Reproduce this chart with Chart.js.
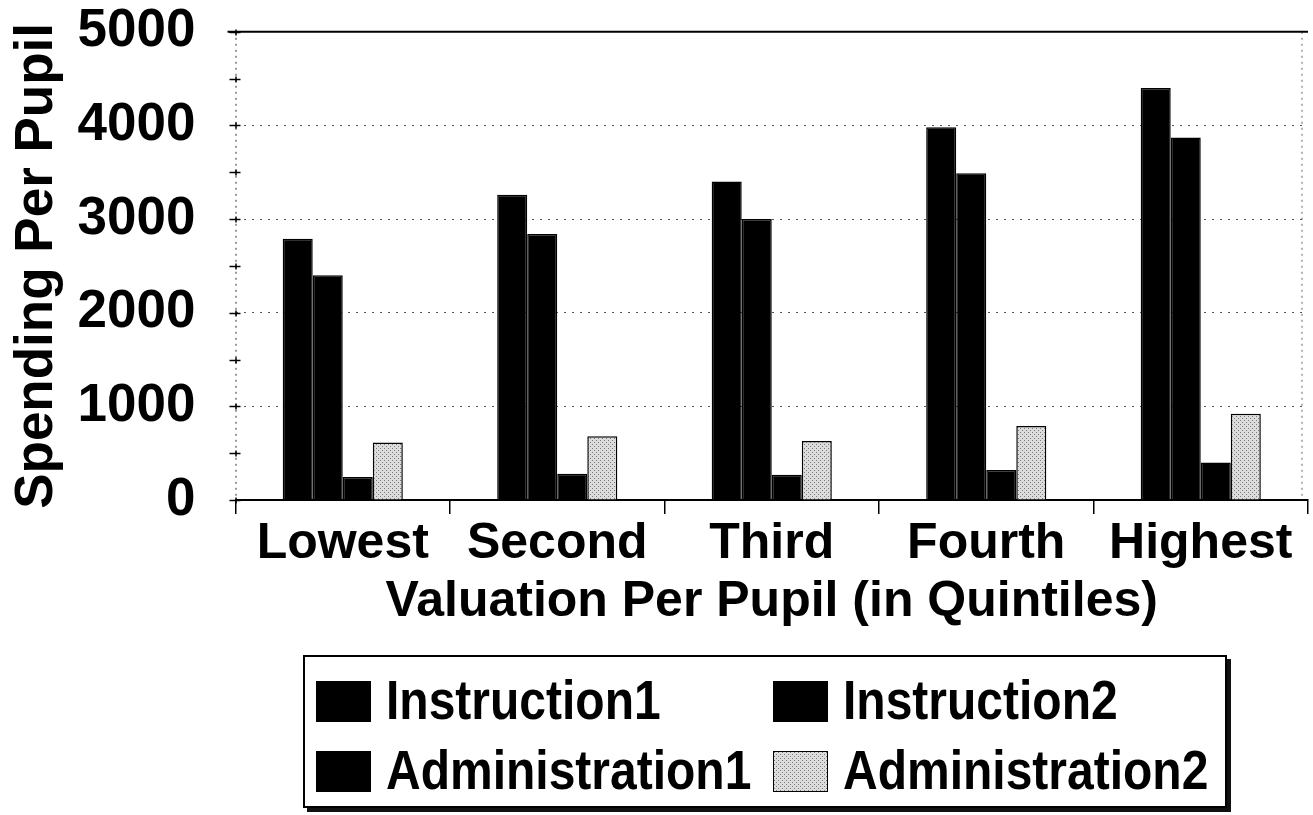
<!DOCTYPE html>
<html>
<head>
<meta charset="utf-8">
<script src="https://cdn.jsdelivr.net/npm/chart.js@4/dist/chart.umd.min.js"></script>
<style>
  html, body { margin:0; padding:0; background:#fff; }
  body { width:1313px; height:815px; position:relative; overflow:hidden; font-family:"Liberation Sans", Arial, sans-serif; }
  #wrap { position:absolute; left:0; top:0; width:1313px; height:632px; }
  #legend { position:absolute; left:303px; top:655px; width:924px; height:153px; border:2px solid #000;
            box-shadow: 4px 4px 0 #111; box-sizing:border-box; background:#fff; }
  .item { position:absolute; display:flex; align-items:center; font-size:48px; font-weight:bold; color:#000; line-height:1; white-space:nowrap; }
  .item span { display:inline-block; transform:scaleY(1.15); transform-origin:50% 50%; }
  .sw { width:55px; height:41px; border:1.5px solid #000; box-sizing:border-box; margin-right:15px; }
</style>
</head>
<body>
<div id="wrap"><canvas id="c"></canvas></div>
<div id="legend"></div>
<script>
const categories = ["Lowest", "Second", "Third", "Fourth", "Highest"];
const seriesNames = ["Instruction1", "Instruction2", "Administration1", "Administration2"];
const instruction1 = [2790, 3260, 3400, 3980, 4400];
const instruction2 = [2400, 2840, 3000, 3490, 3870];
const administration1 = [245, 280, 270, 320, 400];
const administration2 = [615, 680, 630, 790, 920];
const yTicks = [0, 1000, 2000, 3000, 4000, 5000];

function dotPattern() {
  const p = document.createElement('canvas');
  p.width = 4; p.height = 4;
  const g = p.getContext('2d');
  g.fillStyle = '#dcdcdc'; g.fillRect(0,0,4,4);
  g.fillStyle = '#7a7a7a';
  g.fillRect(0,0,1,1); g.fillRect(2,2,1,1);
  return { pattern: g.createPattern(p, 'repeat'), url: p.toDataURL() };
}
const pat = dotPattern();
const fills = ['#000', '#000', '#000', pat.pattern];
const values = [instruction1, instruction2, administration1, administration2];

const FONT = '"Liberation Sans", Arial, sans-serif';

const frame = {
  id: 'frame',
  afterDraw(chart) {
    const {ctx, chartArea, scales} = chart;
    const y = scales.y;
    const yTop = y.getPixelForValue(y.max);
    const yBot = y.getPixelForValue(y.min);
    ctx.save();
    // dotted value-axis line
    ctx.strokeStyle = '#333'; ctx.lineWidth = 1; ctx.setLineDash([2,4]);
    ctx.beginPath(); ctx.moveTo(chartArea.left + 0.5, yTop); ctx.lineTo(chartArea.left + 0.5, yBot); ctx.stroke();
    // right dotted border
    ctx.strokeStyle = '#666';
    ctx.beginPath(); ctx.moveTo(chartArea.right - 6, yTop); ctx.lineTo(chartArea.right - 6, yBot); ctx.stroke();
    ctx.setLineDash([]);
    // top solid border
    ctx.strokeStyle = '#000'; ctx.lineWidth = 2;
    ctx.beginPath(); ctx.moveTo(chartArea.left - 8, yTop); ctx.lineTo(chartArea.right, yTop); ctx.stroke();
    // minor "+" tick marks on the value axis
    ctx.lineWidth = 1.5;
    y.ticks.forEach(t => {
      const py = Math.round(y.getPixelForValue(t.value)) + 0.5;
      ctx.beginPath(); ctx.moveTo(chartArea.left - 6, py); ctx.lineTo(chartArea.left + 5, py); ctx.stroke();
      ctx.beginPath(); ctx.moveTo(chartArea.left + 0.5, py - 3); ctx.lineTo(chartArea.left + 0.5, py + 3); ctx.stroke();
    });
    ctx.restore();
  }
};

const chart = new Chart(document.getElementById('c'), {
  type: 'bar',
  data: {
    labels: categories,
    datasets: seriesNames.map((n, i) => ({
      label: n,
      data: values[i],
      backgroundColor: fills[i],
      borderColor: '#000',
      borderWidth: 1.5,
      categoryPercentage: 0.56,
      barPercentage: 1.0
    }))
  },
  options: {
    responsive: true,
    maintainAspectRatio: false,
    animation: false,
    layout: { padding: { top: 0, right: 5, left: 6, bottom: 0 } },
    plugins: { legend: { display: false }, tooltip: { enabled: false } },
    scales: {
      x: {
        offset: true,
        grid: { display: true, offset: true, drawOnChartArea: false, drawTicks: true, tickLength: 14, color: '#000', lineWidth: 1.5 },
        border: { color: '#000', width: 2 },
        ticks: { color: '#000', font: { family: FONT, size: 50, weight: 'bold' }, padding: 0, maxRotation: 0 },
        title: { display: true, text: 'Valuation Per Pupil (in Quintiles)', color: '#000', font: { family: FONT, size: 50, weight: 'bold' }, padding: { top: -2, bottom: 0 } }
      },
      y: {
        min: 0, max: 5000,
        afterBuildTicks(axis) {
          const t = [];
          for (let v = 0; v <= 5000; v += 500) t.push({ value: v });
          axis.ticks = t;
        },
        grid: {
          color: (c) => (c.tick && c.tick.value % 1000 === 0 && c.tick.value > 0 && c.tick.value < 5000) ? '#555' : 'rgba(0,0,0,0)',
          tickColor: 'rgba(0,0,0,0)',
          drawTicks: true, tickLength: 40, lineWidth: 1
        },
        border: { display: false, color: '#777', width: 1, dash: [2, 6] },
        ticks: {
          autoSkip: false,
          color: '#000', font: { family: FONT, size: 53, weight: 'bold' }, padding: 0,
          callback: (v) => yTicks.includes(v) ? String(v) : ''
        },
        title: { display: true, text: 'Spending Per Pupil', color: '#000', font: { family: FONT, size: 53, weight: 'bold' }, padding: { top: 0, bottom: 8 } }
      }
    }
  },
  plugins: [frame]
});

// HTML legend built from datasets
const lg = document.getElementById('legend');
const pos = [[11, 20], [468, 20], [11, 90], [468, 90]];
chart.data.datasets.forEach((ds, i) => {
  const it = document.createElement('div');
  it.className = 'item';
  it.style.left = pos[i][0] + 'px';
  it.style.top = pos[i][1] + 'px';
  const sw = document.createElement('div');
  sw.className = 'sw';
  if (typeof ds.backgroundColor === 'string') {
    sw.style.background = ds.backgroundColor;
  } else {
    sw.style.backgroundImage = 'url(' + pat.url + ')';
  }
  const tx = document.createElement('span');
  tx.textContent = ds.label;
  it.appendChild(sw); it.appendChild(tx);
  lg.appendChild(it);
});
</script>
</body>
</html>
